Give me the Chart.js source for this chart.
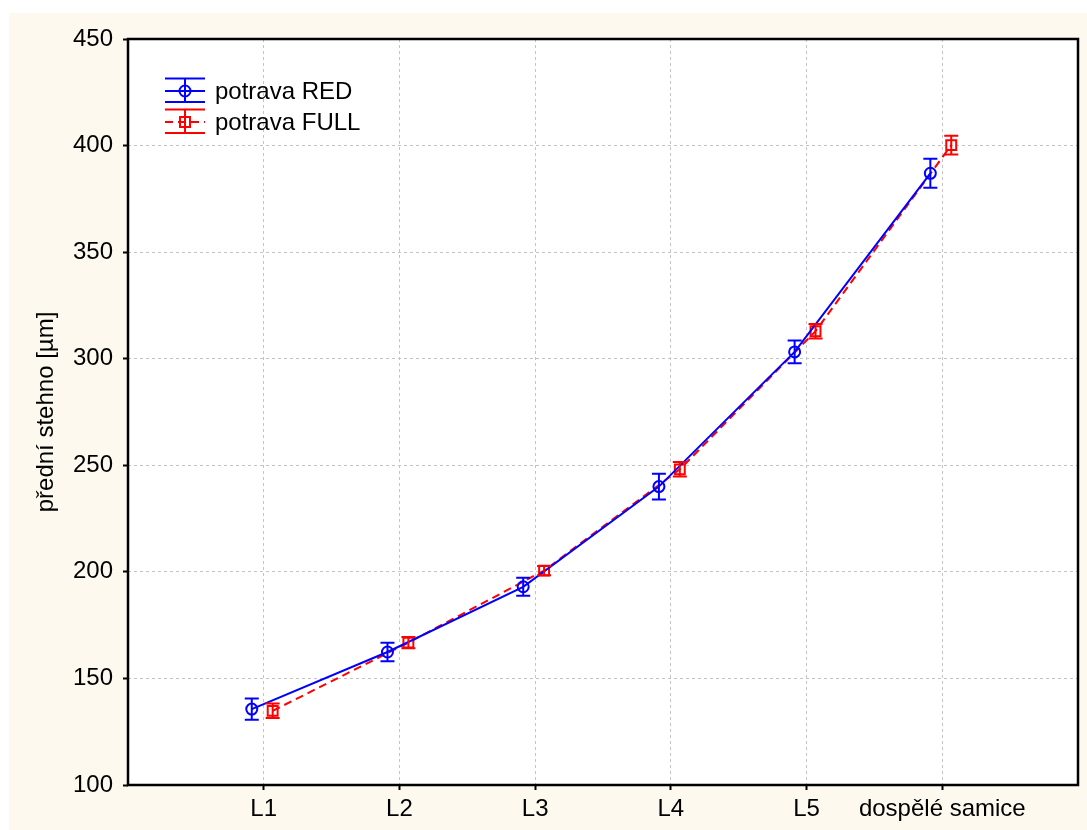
<!DOCTYPE html>
<html>
<head>
<meta charset="utf-8">
<script src="https://cdn.jsdelivr.net/npm/chart.js@4.4.0/dist/chart.umd.min.js"></script>
<style>
  html, body { margin: 0; padding: 0; background: #fff; }
  #wrap { position: absolute; left: 0; top: 0; width: 1087px; height: 830px; }
</style>
</head>
<body>
<div id="wrap"><canvas id="plot" width="1087" height="830"></canvas></div>
<script>
const categories = ["L1", "L2", "L3", "L4", "L5", "dospělé samice"];
const redMeans = [135.6, 162.4, 193.0, 240.0, 303.2, 387.0];
const redErr = [5.0, 4.3, 4.2, 6.0, 5.3, 6.8];
const fullMeans = [134.8, 166.8, 200.6, 248.1, 312.9, 400.2];
const fullErr = [3.4, 2.6, 2.2, 3.4, 3.4, 4.4];
const yTicks = [100, 150, 200, 250, 300, 350, 400, 450];

const BLUE = "#0000ff";
const RED = "#ff0000";
const FONT = "'Liberation Sans', Arial, sans-serif";
const FONT_SIZE = 24;

// small horizontal shift so the two groups do not overlap at each stage
const shiftRed = -0.088;
const shiftFull = 0.066;

function toPoints(values, shift) {
  return values.map((v, i) => ({ x: i + 1 + shift, y: v }));
}

const errorBarsPlugin = {
  id: "error_bars",
  afterDatasetsDraw: (chart) => {
    const ctx = chart.ctx;
    const xs = chart.scales.x;
    const ys = chart.scales.y;
    const sets = [
      { means: redMeans, errs: redErr, shift: shiftRed, color: BLUE },
      { means: fullMeans, errs: fullErr, shift: shiftFull, color: RED },
    ];
    ctx.save();
    ctx.lineWidth = 2;
    sets.forEach((s) => {
      ctx.strokeStyle = s.color;
      s.means.forEach((m, i) => {
        const px = xs.getPixelForValue(i + 1 + s.shift);
        const top = ys.getPixelForValue(m + s.errs[i]);
        const bot = ys.getPixelForValue(m - s.errs[i]);
        ctx.beginPath();
        ctx.moveTo(px, top);
        ctx.lineTo(px, bot);
        ctx.moveTo(px - 7, top);
        ctx.lineTo(px + 7, top);
        ctx.moveTo(px - 7, bot);
        ctx.lineTo(px + 7, bot);
        ctx.stroke();
      });
    });
    ctx.restore();
  },
};

const frameAndLegendPlugin = {
  id: "frame_legend",
  beforeDraw: (chart) => {
    const ctx = chart.ctx;
    const a = chart.chartArea;
    ctx.save();
    ctx.fillStyle = "#fdf9ef";
    ctx.fillRect(9, 13, chart.width - 9, chart.height - 13);
    ctx.fillStyle = "#ffffff";
    ctx.fillRect(a.left, a.top, a.right - a.left, a.bottom - a.top);
    ctx.restore();
  },
  afterDraw: (chart) => {
    const ctx = chart.ctx;
    const a = chart.chartArea;
    ctx.save();
    ctx.strokeStyle = "#000";
    ctx.lineWidth = 2.5;
    ctx.strokeRect(a.left, a.top, a.right - a.left, a.bottom - a.top);

    // legend with error-bar symbols
    const x0 = a.left + 37;
    const x1 = a.left + 77;
    const xc = (x0 + x1) / 2;
    const rows = [
      { y: a.top + 52, color: BLUE, dash: [], marker: "circle", text: "potrava RED" },
      { y: a.top + 83, color: RED, dash: [8, 5], marker: "square", text: "potrava FULL" },
    ];
    rows.forEach((r) => {
      ctx.strokeStyle = r.color;
      ctx.lineWidth = 2;
      ctx.setLineDash([]);
      ctx.beginPath();
      ctx.moveTo(x0, r.y - 12.5);
      ctx.lineTo(x1, r.y - 12.5);
      ctx.moveTo(x0, r.y + 11);
      ctx.lineTo(x1, r.y + 11);
      ctx.moveTo(xc, r.y - 12.5);
      ctx.lineTo(xc, r.y + 11);
      ctx.stroke();
      ctx.setLineDash(r.dash);
      ctx.beginPath();
      ctx.moveTo(x0, r.y);
      ctx.lineTo(x1, r.y);
      ctx.stroke();
      ctx.setLineDash([]);
      ctx.beginPath();
      if (r.marker === "circle") {
        ctx.arc(xc, r.y, 5.5, 0, Math.PI * 2);
      } else {
        ctx.rect(xc - 5, r.y - 5, 10, 10);
      }
      ctx.stroke();
      ctx.fillStyle = "#000";
      ctx.font = FONT_SIZE + "px " + FONT;
      ctx.textBaseline = "middle";
      ctx.fillText(r.text, a.left + 87, r.y + 1);
    });
    ctx.restore();
  },
};

const edgeTick = (c) => c.tick && (c.tick.value === 0 || c.tick.value === 7);

const config = {
  type: "line",
  plugins: [frameAndLegendPlugin, errorBarsPlugin],
  data: {
    datasets: [
      {
        label: "potrava RED",
        data: toPoints(redMeans, shiftRed),
        borderColor: BLUE,
        borderWidth: 2,
        pointStyle: "circle",
        pointRadius: 5.5,
        pointBorderWidth: 2,
        pointBorderColor: BLUE,
        pointBackgroundColor: "rgba(0,0,0,0)",
        tension: 0,
      },
      {
        label: "potrava FULL",
        data: toPoints(fullMeans, shiftFull),
        borderColor: RED,
        borderWidth: 2,
        borderDash: [8, 5],
        pointStyle: "rect",
        pointRadius: 7,
        pointBorderWidth: 2,
        pointBorderColor: RED,
        pointBackgroundColor: "rgba(0,0,0,0)",
        tension: 0,
      },
    ],
  },
  options: {
    responsive: false,
    animation: false,
    devicePixelRatio: 1,
    layout: { padding: { top: 39, right: 6, left: 0, bottom: 0 } },
    plugins: {
      legend: { display: false },
      tooltip: { enabled: false },
    },
    scales: {
      x: {
        type: "linear",
        min: 0,
        max: 7,
        afterFit: (scale) => { scale.height = 45; },
        afterBuildTicks: (scale) => {
          scale.ticks = [0, 1, 2, 3, 4, 5, 6, 7].map((v) => ({ value: v }));
        },
        ticks: {
          autoSkip: false,
          maxRotation: 0,
          padding: 5,
          color: "#000",
          font: { family: FONT, size: FONT_SIZE },
          callback: (v) => categories[v - 1] || "",
        },
        grid: {
          color: (c) => (edgeTick(c) ? "rgba(0,0,0,0)" : "#c4c4c4"),
          lineWidth: 1,
          drawTicks: true,
          tickLength: 5,
          tickColor: (c) => (edgeTick(c) ? "rgba(0,0,0,0)" : "#000"),
          tickWidth: 2,
          tickBorderDash: [],
        },
        border: { display: false, dash: [3, 3] },
      },
      y: {
        type: "linear",
        min: 100,
        max: 450,
        afterFit: (scale) => { scale.width = 128; },
        afterBuildTicks: (scale) => {
          scale.ticks = yTicks.map((v) => ({ value: v }));
        },
        ticks: {
          padding: 10,
          color: "#000",
          font: { family: FONT, size: FONT_SIZE },
        },
        grid: {
          color: "#c4c4c4",
          lineWidth: 1,
          drawTicks: true,
          tickLength: 5,
          tickColor: "#000",
          tickWidth: 2,
          tickBorderDash: [],
        },
        border: { display: false, dash: [3, 3] },
        title: {
          display: true,
          text: "přední stehno [µm]",
          color: "#000",
          font: { family: FONT, size: FONT_SIZE },
          padding: { top: 32, bottom: 0 },
        },
      },
    },
  },
};

const canvas = document.getElementById("plot");
const chart = new Chart(canvas.getContext("2d"), config);
</script>
</body>
</html>
